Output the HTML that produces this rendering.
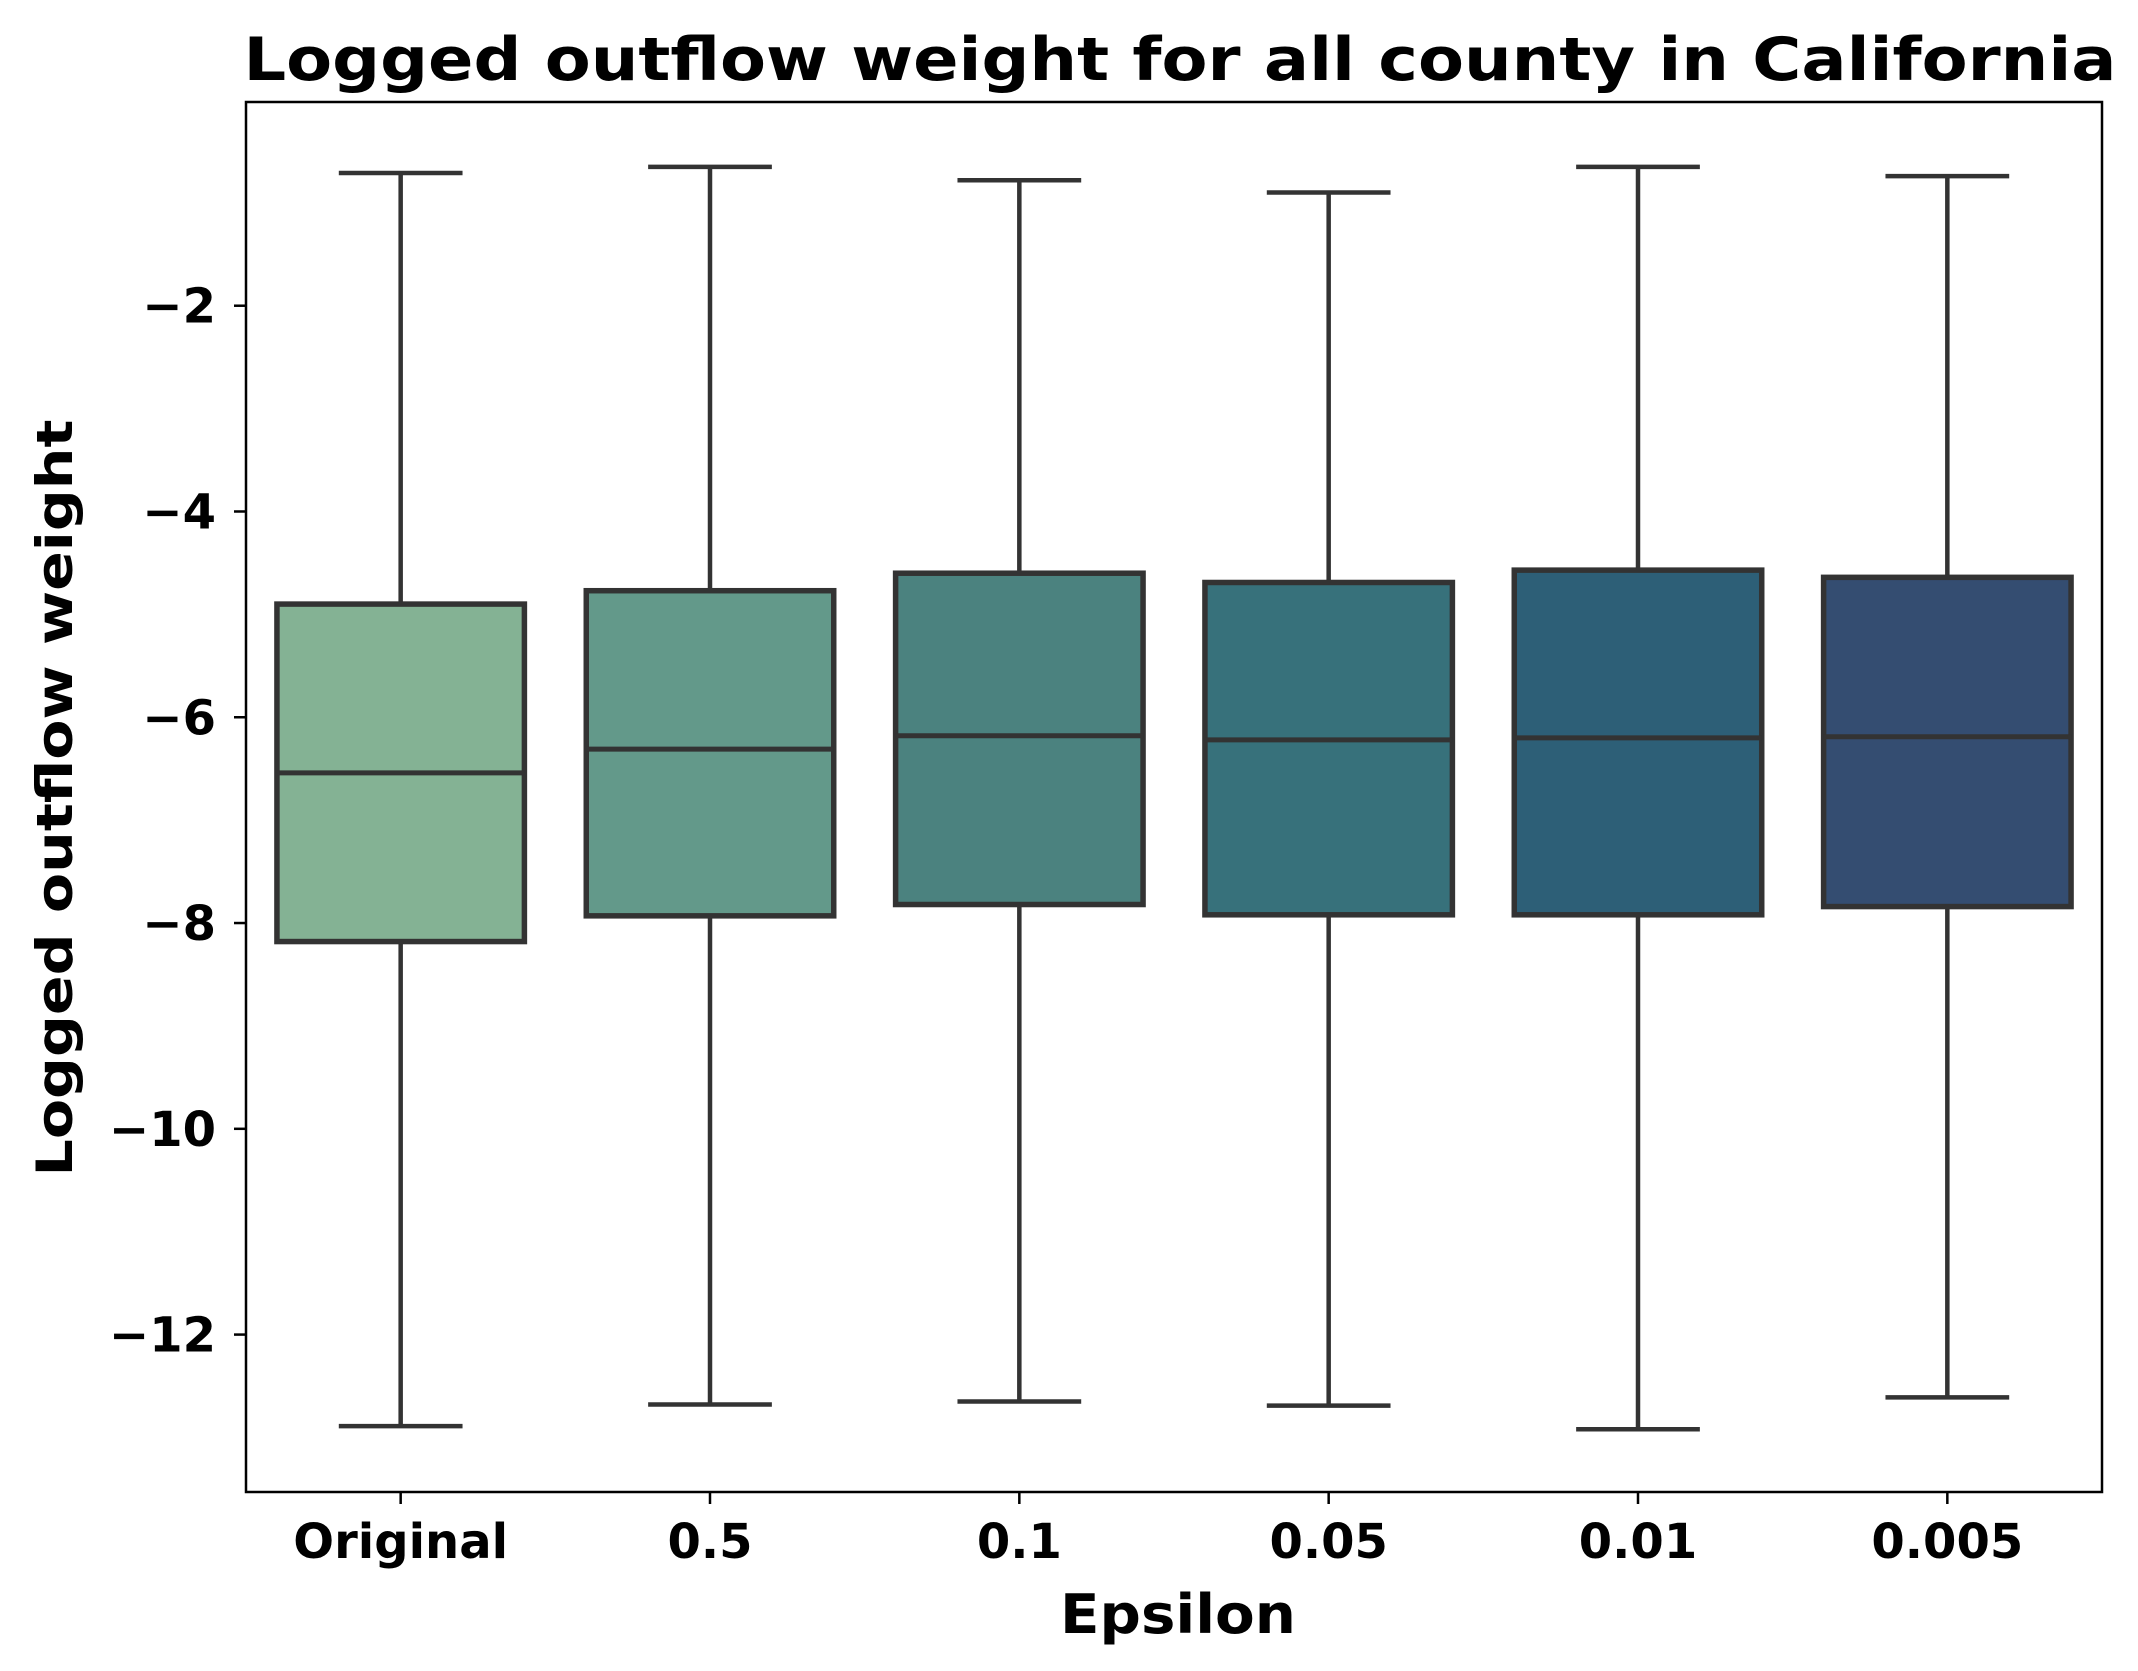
<!DOCTYPE html>
<html><head><meta charset="utf-8"><style>
html,body{margin:0;padding:0;background:#fff;}
svg{display:block;font-family:"DejaVu Sans","Liberation Sans",sans-serif;font-weight:bold;}
</style></head><body>
<svg id="chart" width="2138" height="1671" viewBox="0 0 2138 1671">
<rect x="0" y="0" width="2138" height="1671" fill="#fff"/>
<text x="1180" y="80" text-anchor="middle" font-size="60" textLength="1873" lengthAdjust="spacingAndGlyphs">Logged outflow weight for all county in California</text>
<g id="plot"></g>
<text x="1178" y="1633" text-anchor="middle" font-size="54" textLength="236" lengthAdjust="spacingAndGlyphs">Epsilon</text>
<text transform="translate(72,798) rotate(-90)" text-anchor="middle" font-size="50" textLength="757" lengthAdjust="spacingAndGlyphs">Logged outflow weight</text>
</svg>
<script>
const categories = ["Original","0.5","0.1","0.05","0.01","0.005"];
const whiskerHigh = [-0.71,-0.65,-0.78,-0.90,-0.65,-0.74];
const q3Values = [-4.90,-4.77,-4.60,-4.69,-4.57,-4.64];
const medianValues = [-6.54,-6.31,-6.18,-6.22,-6.20,-6.19];
const q1Values = [-8.18,-7.93,-7.82,-7.92,-7.92,-7.84];
const whiskerLow = [-12.89,-12.68,-12.65,-12.69,-12.92,-12.61];
const yTicks = [-2,-4,-6,-8,-10,-12];
const yTickLabels = ["\u22122","\u22124","\u22126","\u22128","\u221210","\u221212"];
const colors = ["#84b294","#63998a","#4b827f","#37717b","#2d5f77","#344d71"];

const L=246,R=2102,T=102,B=1492;
const yMin=-13.53,yMax=-0.02;
const svgNS="http://www.w3.org/2000/svg";
const plot=document.getElementById('plot');
function y(v){return T+(yMax-v)/(yMax-yMin)*(B-T);}
const band=(R-L)/categories.length;
function xc(i){return L+band*(i+0.5);}
function mk(tag,attrs,parent){const e=document.createElementNS(svgNS,tag);for(const k in attrs)e.setAttribute(k,attrs[k]);(parent||plot).appendChild(e);return e;}
const ln="#333333",lw=4.5;
categories.forEach((c,i)=>{
  const g=mk('g',{});
  
  
  const cx=xc(i),bw=band*0.8,cw=band*0.4;
  const w1=mk('line',{x1:cx,x2:cx,y1:y(whiskerHigh[i]),y2:y(q3Values[i]),stroke:ln,'stroke-width':lw},g);
  
  
  const w2=mk('line',{x1:cx,x2:cx,y1:y(q1Values[i]),y2:y(whiskerLow[i]),stroke:ln,'stroke-width':lw},g);
  
  
  const c1=mk('line',{x1:cx-cw/2,x2:cx+cw/2,y1:y(whiskerHigh[i]),y2:y(whiskerHigh[i]),stroke:ln,'stroke-width':lw},g);
  
  
  const c2=mk('line',{x1:cx-cw/2,x2:cx+cw/2,y1:y(whiskerLow[i]),y2:y(whiskerLow[i]),stroke:ln,'stroke-width':lw},g);
  
  
  const b=mk('rect',{x:cx-bw/2,y:y(q3Values[i]),width:bw,height:y(q1Values[i])-y(q3Values[i]),fill:colors[i],stroke:ln,'stroke-width':5.5},g);
  
  
  const m=mk('line',{x1:cx-bw/2,x2:cx+bw/2,y1:y(medianValues[i]),y2:y(medianValues[i]),stroke:ln,'stroke-width':lw+0.5},g);
  
  
  const t=mk('line',{x1:cx,x2:cx,y1:B,y2:B+12,stroke:'#000','stroke-width':2.5});
  
  
  const tl=mk('text',{x:cx,y:1558,'text-anchor':'middle','font-size':48});
  tl.textContent=c;
  
  
});
yTicks.forEach((v,i)=>{
  const t=mk('line',{x1:L-12,x2:L,y1:y(v),y2:y(v),stroke:'#000','stroke-width':2.5});
  
  
  const tl=mk('text',{x:L-30,y:y(v)+17,'text-anchor':'end','font-size':48});
  tl.textContent=yTickLabels[i];
  
  
});
const frame=mk('rect',{x:L,y:T,width:R-L,height:B-T,fill:'none',stroke:'#000','stroke-width':2.5});


</script>
</body></html>
